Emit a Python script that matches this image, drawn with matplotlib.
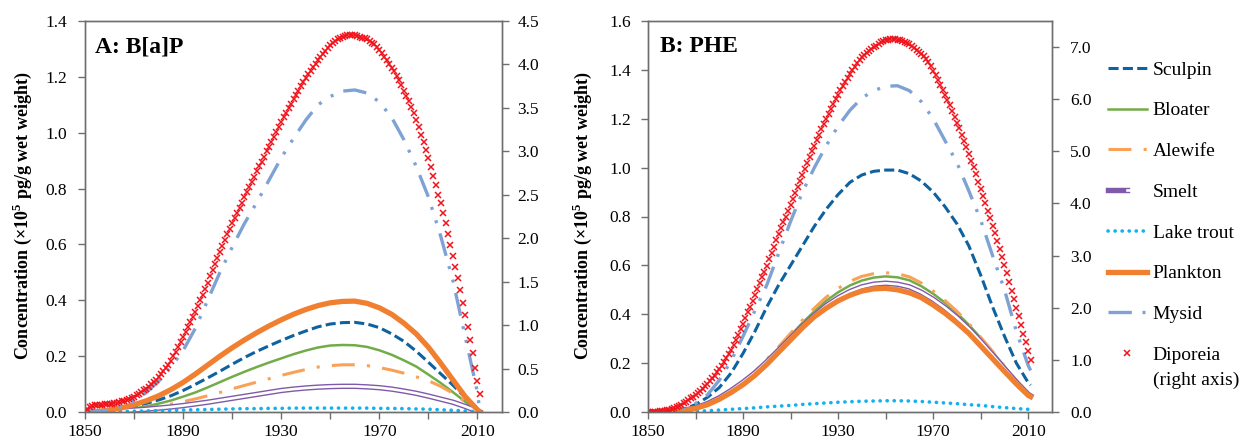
import matplotlib
matplotlib.use('Agg')
import matplotlib.pyplot as plt
from matplotlib.lines import Line2D
from matplotlib.legend_handler import HandlerTuple
from matplotlib.ticker import FormatStrFormatter

plt.rcParams['font.family'] = ['Liberation Serif', 'DejaVu Serif']
plt.rcParams['mathtext.fontset'] = 'custom'
plt.rcParams['mathtext.rm'] = 'Liberation Serif'
plt.rcParams['mathtext.bf'] = 'Liberation Serif:bold'

# ---------------- data ----------------
years_line = [1850, 1855, 1860, 1865, 1870, 1875, 1880, 1885, 1890, 1895, 1900,
              1905, 1910, 1915, 1920, 1925, 1930, 1935, 1940, 1945, 1950, 1955,
              1960, 1965, 1970, 1975, 1980, 1985, 1990, 1995, 2000, 2005, 2010, 2011]
years_dip = list(range(1850, 2012))

# Panel A: B[a]P (left axis, x10^5 pg/g wet weight)
a_sculpin = [0, 0.001, 0.005, 0.011, 0.02, 0.031, 0.043, 0.058, 0.077, 0.099, 0.122,
             0.146, 0.171, 0.195, 0.217, 0.237, 0.256, 0.274, 0.29, 0.305, 0.315, 0.32,
             0.321, 0.315, 0.302, 0.28, 0.253, 0.218, 0.178, 0.137, 0.096, 0.052, 0.008, 0]
a_bloater = [0, 0.001, 0.003, 0.007, 0.013, 0.02, 0.03, 0.041, 0.055, 0.07, 0.088,
             0.107, 0.126, 0.144, 0.161, 0.177, 0.192, 0.207, 0.22, 0.231, 0.238, 0.24,
             0.239, 0.233, 0.221, 0.205, 0.185, 0.163, 0.134, 0.104, 0.071, 0.037, 0.004, 0]
a_alewife = [0, 0.001, 0.002, 0.005, 0.009, 0.014, 0.02, 0.028, 0.037, 0.047, 0.058,
             0.07, 0.083, 0.095, 0.107, 0.119, 0.131, 0.142, 0.152, 0.161, 0.166, 0.169,
             0.169, 0.166, 0.159, 0.15, 0.139, 0.126, 0.112, 0.092, 0.067, 0.037, 0.005, 0]
a_smelt = [0, 0.0005, 0.002, 0.004, 0.007, 0.01, 0.014, 0.018, 0.023, 0.029, 0.035,
           0.042, 0.049, 0.056, 0.063, 0.07, 0.077, 0.082, 0.086, 0.089, 0.091, 0.092,
           0.092, 0.09, 0.087, 0.082, 0.075, 0.067, 0.057, 0.046, 0.035, 0.02, 0.003, 0]
a_laketrout = [0, 0.0003, 0.001, 0.002, 0.003, 0.004, 0.005, 0.006, 0.007, 0.008, 0.009,
               0.01, 0.011, 0.012, 0.012, 0.013, 0.013, 0.014, 0.014, 0.014, 0.014, 0.014,
               0.014, 0.014, 0.013, 0.013, 0.012, 0.011, 0.01, 0.008, 0.006, 0.004, 0.001, 0]
a_plankton = [0, 0.002, 0.007, 0.015, 0.026, 0.04, 0.058, 0.08, 0.106, 0.136, 0.168,
              0.2, 0.23, 0.258, 0.284, 0.308, 0.33, 0.35, 0.367, 0.381, 0.391, 0.396,
              0.397, 0.389, 0.373, 0.35, 0.318, 0.28, 0.232, 0.175, 0.115, 0.055, 0.008, 0]
a_mysid = [0, 0.002, 0.008, 0.02, 0.04, 0.07, 0.11, 0.16, 0.22, 0.3, 0.4,
           0.5, 0.59, 0.675, 0.75, 0.83, 0.91, 0.98, 1.045, 1.1, 1.13, 1.149,
           1.153, 1.142, 1.11, 1.055, 0.975, 0.88, 0.77, 0.63, 0.47, 0.27, 0.07, 0]
# Diporeia A (right axis), yearly 1850-2011
a_diporeia = [0.0, 0.04, 0.06, 0.07, 0.075, 0.08, 0.082, 0.085, 0.087, 0.09,
              0.093, 0.097, 0.102, 0.108, 0.115, 0.123, 0.132, 0.142, 0.153, 0.165,
              0.178, 0.192, 0.21, 0.228, 0.248, 0.27, 0.293, 0.318, 0.345, 0.373,
              0.403, 0.435, 0.47, 0.505, 0.545, 0.59, 0.64, 0.69, 0.745, 0.8,
              0.86, 0.915, 0.975, 1.035, 1.095, 1.155, 1.215, 1.285, 1.35, 1.42,
              1.49, 1.56, 1.63, 1.7, 1.77, 1.84, 1.91, 1.98, 2.05, 2.11,
              2.17, 2.23, 2.29, 2.35, 2.41, 2.47, 2.53, 2.59, 2.65, 2.71,
              2.77, 2.83, 2.88, 2.94, 3.0, 3.05, 3.11, 3.17, 3.22, 3.28,
              3.34, 3.39, 3.44, 3.5, 3.55, 3.6, 3.65, 3.7, 3.75, 3.8,
              3.84, 3.89, 3.93, 3.97, 4.01, 4.05, 4.09, 4.12, 4.16, 4.19,
              4.22, 4.25, 4.27, 4.29, 4.31, 4.32, 4.33, 4.34, 4.34, 4.34,
              4.34, 4.33, 4.32, 4.31, 4.3, 4.29, 4.27, 4.25, 4.23, 4.2,
              4.17, 4.13, 4.09, 4.05, 4.01, 3.96, 3.92, 3.87, 3.82, 3.76,
              3.7, 3.64, 3.58, 3.51, 3.44, 3.36, 3.28, 3.19, 3.11, 3.02,
              2.92, 2.82, 2.72, 2.61, 2.5, 2.4, 2.29, 2.17, 2.05, 1.92,
              1.8, 1.67, 1.54, 1.4, 1.26, 1.12, 0.975, 0.83, 0.675, 0.51,
              0.36, 0.21]

# Panel B: PHE
b_sculpin = [0, 0.001, 0.004, 0.012, 0.03, 0.06, 0.1, 0.16, 0.24, 0.33, 0.43,
             0.52, 0.6, 0.68, 0.76, 0.83, 0.89, 0.94, 0.97, 0.985, 0.99, 0.99,
             0.975, 0.945, 0.9, 0.84, 0.77, 0.68, 0.56, 0.43, 0.31, 0.2, 0.12, 0.11]
b_bloater = [0, 0.0, 0.002, 0.007, 0.017, 0.034, 0.058, 0.088, 0.123, 0.163, 0.21,
             0.26, 0.313, 0.365, 0.412, 0.455, 0.49, 0.518, 0.538, 0.55, 0.555, 0.551,
             0.539, 0.515, 0.484, 0.447, 0.405, 0.357, 0.303, 0.246, 0.187, 0.128, 0.075, 0.068]
b_alewife = [0, 0.0, 0.002, 0.007, 0.017, 0.034, 0.058, 0.088, 0.124, 0.166, 0.215,
             0.267, 0.322, 0.376, 0.425, 0.47, 0.506, 0.535, 0.555, 0.566, 0.57, 0.566,
             0.553, 0.528, 0.495, 0.456, 0.412, 0.362, 0.306, 0.248, 0.188, 0.128, 0.074, 0.067]
b_smelt = [0, 0.0, 0.002, 0.007, 0.017, 0.034, 0.058, 0.088, 0.122, 0.16, 0.205,
           0.253, 0.302, 0.351, 0.395, 0.435, 0.467, 0.493, 0.512, 0.523, 0.527, 0.523,
           0.512, 0.49, 0.461, 0.426, 0.386, 0.34, 0.288, 0.233, 0.177, 0.122, 0.072, 0.066]
b_laketrout = [0, 0, 0.0, 0.001, 0.003, 0.005, 0.008, 0.011, 0.014, 0.017, 0.021,
               0.024, 0.027, 0.031, 0.034, 0.037, 0.04, 0.042, 0.044, 0.045, 0.046, 0.046,
               0.045, 0.043, 0.04, 0.037, 0.034, 0.03, 0.027, 0.022, 0.018, 0.014, 0.011, 0.01]
b_plankton = [0, 0.0, 0.002, 0.006, 0.015, 0.03, 0.052, 0.08, 0.112, 0.15, 0.195,
              0.245, 0.295, 0.345, 0.39, 0.425, 0.455, 0.478, 0.495, 0.504, 0.506, 0.5,
              0.488, 0.468, 0.438, 0.404, 0.365, 0.322, 0.27, 0.218, 0.166, 0.115, 0.068, 0.063]
b_mysid = [0, 0.001, 0.005, 0.015, 0.035, 0.07, 0.13, 0.21, 0.31, 0.415, 0.52,
           0.65, 0.78, 0.9, 1.0, 1.09, 1.17, 1.235, 1.285, 1.315, 1.333, 1.335,
           1.315, 1.27, 1.2, 1.11, 1.02, 0.905, 0.785, 0.64, 0.5, 0.33, 0.19, 0.17]
b_diporeia = [0.0, 0.002, 0.004, 0.006, 0.009, 0.013, 0.018, 0.025, 0.034, 0.045,
              0.058, 0.073, 0.09, 0.11, 0.135, 0.164, 0.195, 0.228, 0.26, 0.293,
              0.328, 0.367, 0.408, 0.45, 0.494, 0.539, 0.59, 0.645, 0.7, 0.76,
              0.82, 0.89, 0.96, 1.03, 1.11, 1.195, 1.29, 1.385, 1.485, 1.585,
              1.69, 1.8, 1.91, 2.02, 2.135, 2.25, 2.36, 2.47, 2.58, 2.695,
              2.81, 2.93, 3.05, 3.17, 3.3, 3.42, 3.53, 3.64, 3.75, 3.865,
              3.98, 4.095, 4.21, 4.325, 4.44, 4.55, 4.66, 4.775, 4.89, 5.0,
              5.11, 5.215, 5.32, 5.42, 5.525, 5.625, 5.72, 5.815, 5.91, 6.0,
              6.09, 6.17, 6.25, 6.33, 6.41, 6.49, 6.56, 6.62, 6.69, 6.75,
              6.8, 6.85, 6.89, 6.93, 6.97, 7.0, 7.03, 7.06, 7.09, 7.11,
              7.13, 7.14, 7.15, 7.15, 7.15, 7.14, 7.13, 7.12, 7.1, 7.08,
              7.05, 7.02, 6.99, 6.95, 6.91, 6.87, 6.82, 6.78, 6.71, 6.63,
              6.55, 6.46, 6.37, 6.28, 6.18, 6.08, 5.98, 5.88, 5.77, 5.66,
              5.55, 5.44, 5.32, 5.2, 5.08, 4.95, 4.82, 4.69, 4.56, 4.42,
              4.28, 4.14, 4.0, 3.86, 3.72, 3.57, 3.43, 3.28, 3.13, 2.98,
              2.82, 2.66, 2.5, 2.33, 2.17, 2.0, 1.84, 1.67, 1.5, 1.34,
              1.17, 1.0]

labels = ['Sculpin', 'Bloater', 'Alewife', 'Smelt', 'Lake trout', 'Plankton', 'Mysid', 'Diporeia']
x_ticks = [1850, 1870, 1890, 1910, 1930, 1950, 1970, 1990, 2010]
x_ticklabels = ['1850', '', '1890', '', '1930', '', '1970', '', '2010']

# ---------------- styles ----------------
C_SCULPIN = '#0F62A0'
C_BLOATER = '#72AC48'
C_ALEWIFE = '#F9A257'
C_SMELT = '#7F5AA8'
C_TROUT = '#12B2F0'
C_PLANKTON = '#F07F30'
C_MYSID = '#7EA2D3'
C_DIP = '#F0141C'
AX_COL = '#6E6E6E'

st_sculpin = dict(color=C_SCULPIN, lw=2.2, ls=(0, (3.3, 1.4)))
st_bloater = dict(color=C_BLOATER, lw=1.8, ls='-')
st_alewife = dict(color=C_ALEWIFE, lw=2.2, ls=(0, (7.5, 4.0, 1.0, 4.0)))
st_smelt_o = dict(color=C_SMELT, lw=3.9, ls='-')
st_smelt_i = dict(color='white', lw=1.9, ls='-')
st_trout = dict(color=C_TROUT, lw=2.6, ls=(0, (0.05, 1.9)), dash_capstyle='round')
st_plankton = dict(color=C_PLANKTON, lw=3.8, ls='-')
st_mysid = dict(color=C_MYSID, lw=2.4, ls=(0, (7.0, 3.2, 0.9, 3.3, 0.9, 3.2)))
st_dip = dict(color=C_DIP, ls='none', marker='x', ms=4.8, mew=1.1)

W, H = 1240, 442
fig = plt.figure(figsize=(W / 100, H / 100), dpi=100)


def make_panel(left_px, right_px, series, dip, ymax_l, yticks_l, ymax_r, yticks_r,
               title, title_x, ylabel_x, lpad, rpad):
    ax = fig.add_axes([left_px / W, 30 / H, (right_px - left_px) / W, 391 / H])
    sc, bl, al, sm, lt, pl, my = series
    ax.plot(years_line, sc, **st_sculpin)
    ax.plot(years_line, bl, **st_bloater)
    ax.plot(years_line, al, **st_alewife)
    ax.plot(years_line, sm, **st_smelt_o)
    ax.plot(years_line, sm, **st_smelt_i)
    ax.plot(years_line, lt, **st_trout)
    ax.plot(years_line, pl, **st_plankton)
    ax.plot(years_line, my, **st_mysid)
    ax.set_xlim(1850, 2020)
    ax.set_ylim(0, ymax_l)
    ax.set_xticks(x_ticks)
    ax.set_xticklabels(x_ticklabels)
    ax.set_yticks(yticks_l)
    ax.yaxis.set_major_formatter(FormatStrFormatter('%.1f'))
    ax2 = ax.twinx()
    ax2.plot(years_dip, dip, **st_dip)
    ax2.set_ylim(0, ymax_r)
    ax2.set_yticks(yticks_r)
    ax2.yaxis.set_major_formatter(FormatStrFormatter('%.1f'))
    for a in (ax, ax2):
        for s in a.spines.values():
            s.set_color(AX_COL)
            s.set_linewidth(1.0)
    ax.tick_params(axis='x', direction='out', length=5, width=1, color=AX_COL,
                   labelsize=12.5, pad=4)
    ax.tick_params(axis='y', direction='out', length=5, width=1, color=AX_COL,
                   labelsize=12.5, pad=lpad)
    ax2.tick_params(axis='y', direction='out', length=5, width=1, color=AX_COL,
                    labelsize=12.5, pad=rpad)
    fig.text(title_x / W, 1 - 47 / H, title, fontsize=17, fontweight='bold',
             ha='left', va='center')
    fig.text(ylabel_x / W, 1 - 216 / H,
             r'Concentration (×10$^{\mathbf{5}}$ pg/g wet weight)',
             fontsize=13, fontweight='bold', rotation=90, ha='center', va='center')
    return ax


make_panel(85, 502, [a_sculpin, a_bloater, a_alewife, a_smelt, a_laketrout, a_plankton, a_mysid],
           a_diporeia, 1.4, [0, 0.2, 0.4, 0.6, 0.8, 1.0, 1.2, 1.4],
           4.5, [0, 0.5, 1.0, 1.5, 2.0, 2.5, 3.0, 3.5, 4.0, 4.5],
           'A: B[a]P', 95, 22, 8, 6)
make_panel(648, 1052, [b_sculpin, b_bloater, b_alewife, b_smelt, b_laketrout, b_plankton, b_mysid],
           b_diporeia, 1.6, [0, 0.2, 0.4, 0.6, 0.8, 1.0, 1.2, 1.4, 1.6],
           7.5, [0, 1, 2, 3, 4, 5, 6, 7],
           'B: PHE', 660, 582, 7, 8)

# ---------------- legend ----------------
h_sculpin = Line2D([], [], **st_sculpin)
h_bloater = Line2D([], [], **st_bloater)
h_alewife = Line2D([], [], **st_alewife)
h_smelt = (Line2D([], [], **st_smelt_o), Line2D([], [], **st_smelt_i))
h_trout = Line2D([], [], **st_trout)
h_plankton = Line2D([], [], **st_plankton)
h_mysid = Line2D([], [], **st_mysid)
h_dip = Line2D([], [], **st_dip)
fig.legend([h_sculpin, h_bloater, h_alewife, h_smelt, h_trout, h_plankton, h_mysid, h_dip],
           labels, loc='upper left', bbox_to_anchor=(1108 / W, 1 - 61 / H),
           frameon=False, fontsize=14, handlelength=2.0, handletextpad=0.3,
           labelspacing=1.19, borderpad=0, borderaxespad=0, numpoints=1,
           handler_map={tuple: HandlerTuple(ndivide=None)})
fig.text(1153 / W, 1 - 380 / H, '(right axis)', fontsize=14, ha='left', va='center')

fig.savefig('out.png', dpi=100)
